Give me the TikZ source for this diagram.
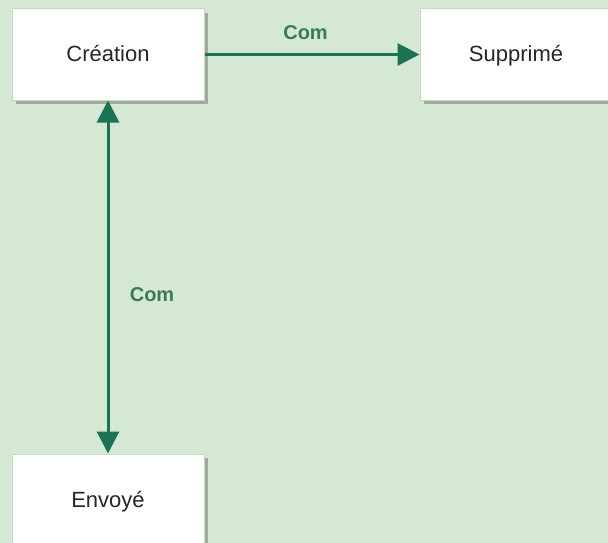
\documentclass[tikz,border=0pt]{standalone}
\usepackage{fontspec}
\setmainfont{Liberation Sans}
\usetikzlibrary{positioning,arrows.meta,shadows}
\definecolor{bggreen}{RGB}{213,232,212}
\definecolor{boxline}{RGB}{190,225,185}
\definecolor{boxshadow}{RGB}{160,170,158}
\definecolor{linkgreen}{RGB}{26,115,82}
\definecolor{labelgreen}{RGB}{58,122,86}

\begin{document}
\begin{tikzpicture}[x=1pt, y=-1pt, every node/.style={font=\fontsize{22}{26}\selectfont}]
  \tikzset{
    state/.style={draw=boxline, fill=white, line width=1pt, minimum width=192pt, minimum height=91pt, inner sep=0pt,
      text height=18pt, text depth=3pt, text=black!85,
      drop shadow={shadow xshift=4pt, shadow yshift=-4pt, fill=boxshadow, opacity=1}},
    link/.style={draw=linkgreen, line width=3pt, -{Triangle[length=22pt, width=22pt]}},
    linklabel/.style={font=\bfseries\fontsize{20}{24}\selectfont, text=labelgreen}
  }

  % --- background ---
  \fill[bggreen] (0,0) rectangle (608,543);
  \useasboundingbox (0,0) rectangle (608,543);

  % --- states ---
  \node[state] (creation) at (108,54.5) {Création};
  \node[state] (supprime) at (516,54.5) {Supprimé};
  \node[state] (envoye) at (108,499.5) {Envoyé};

  % --- links ---
  \draw[link] (creation) -- node[linklabel, pos=0.47, above=10pt] {Com} (supprime);
  \draw[link, {Triangle[length=22pt, width=22pt]}-{Triangle[length=22pt, width=22pt]}] (creation) -- node[linklabel, pos=0.55, right=17pt] {Com} (envoye);
\end{tikzpicture}
\end{document}
